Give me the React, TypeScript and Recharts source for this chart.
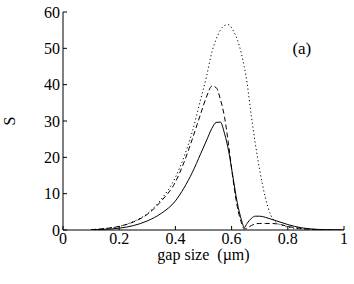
import { LineChart, Line, XAxis, YAxis, ReferenceDot } from "recharts";

// gap size (µm)
const gap = [
  0.1, 0.15, 0.2, 0.25, 0.3, 0.35, 0.4, 0.43, 0.46, 0.49, 0.51, 0.53, 0.545, 0.56, 0.575, 0.59, 0.605,
  0.62, 0.635, 0.645, 0.655, 0.67, 0.685, 0.7, 0.72, 0.74, 0.76, 0.78, 0.8, 0.85, 0.9, 0.95, 1.0,
];

const solid = [
  0.05, 0.2, 0.5, 1.2, 2.5, 4.6, 8.0, 11.5, 15.8, 21, 24.5, 28, 29.6, 29.7, 26.5, 21.5, 14.5,
  7.6, 2.8, 0.7, 1.8, 3.2, 3.8, 3.8, 3.5, 3.0, 2.5, 2.0, 1.5, 0.6, 0.2, 0.05, 0,
];

const dashed = [
  0.1, 0.4, 1.0, 2.2, 4.3, 8.0, 13.2, 18.5, 25, 32, 36.5, 39.6, 39.2, 36, 31, 23, 14,
  6.5, 2, 0.3, 0.5, 1.2, 1.7, 1.8, 1.8, 1.8, 1.7, 1.4, 1.0, 0.4, 0.1, 0.02, 0,
];

const dotted = [
  0.1, 0.4, 1.0, 2.3, 4.5, 8.5, 14.5, 20, 27, 36, 42, 49, 52.5, 55, 56.3, 56.5, 55,
  52.5, 48.5, 45, 40.5, 31.5, 23.5, 16.5, 9, 4, 2, 1.3, 0.8, 0.3, 0.1, 0.02, 0,
];

const xTicks = [0, 0.2, 0.4, 0.6, 0.8, 1];
const yTicks = [0, 10, 20, 30, 40, 50, 60];

const data = gap.map((x, i) => ({ x, solid: solid[i], dashed: dashed[i], dotted: dotted[i] }));

const font = "Liberation Serif, Tinos, DejaVu Serif, serif";
const tickStyle = { fill: "#000", fontSize: 16, fontFamily: font };

export default function App() {
  return (
    <div style={{ width: 354, height: 284, background: "#fff", fontFamily: font }}>
      <style>{"body{margin:0} .recharts-wrapper text{font-family:'Liberation Serif','DejaVu Serif',serif}"}</style>
      <LineChart width={354} height={284} data={data} margin={{ top: 12, right: 10, left: 0, bottom: 0 }}>
        <XAxis
          type="number"
          dataKey="x"
          domain={[0, 1]}
          ticks={xTicks}
          allowDataOverflow
          height={54}
          stroke="#000"
          tick={tickStyle}
          tickSize={-4}
          tickMargin={7}
          label={{ value: "gap size\u00a0 (µm)", position: "insideBottom", offset: 24, fill: "#000", fontSize: 16, fontFamily: font }}
        />
        <XAxis
          xAxisId="top"
          orientation="top"
          type="number"
          dataKey="x"
          domain={[0, 1]}
          ticks={xTicks}
          allowDataOverflow
          height={0}
          stroke="#000"
          tick={false}
          tickSize={-4}
        />
        <YAxis
          type="number"
          domain={[0, 60]}
          ticks={yTicks}
          allowDataOverflow
          width={63}
          stroke="#000"
          tick={tickStyle}
          tickSize={-4}
          tickMargin={7}
          label={(props: any) => {
            const vb = props.viewBox;
            const cx = vb.x + 15;
            const cy = vb.y + vb.height / 2;
            return (
              <text x={cx} y={cy} transform={`rotate(-90 ${cx} ${cy})`} textAnchor="middle" fontSize={16} fontFamily={font} fill="#000">
                S
              </text>
            );
          }}
        />
        <YAxis
          yAxisId="right"
          orientation="right"
          type="number"
          domain={[0, 60]}
          ticks={yTicks}
          allowDataOverflow
          width={0}
          stroke="#000"
          tick={false}
          tickSize={-4}
        />
        <Line type="monotone" dataKey="dotted" stroke="#000" strokeWidth={1} strokeDasharray="1.2 2.6" dot={false} isAnimationActive={false} />
        <Line type="monotone" dataKey="dashed" stroke="#000" strokeWidth={1} strokeDasharray="5 3" dot={false} isAnimationActive={false} />
        <Line type="monotone" dataKey="solid" stroke="#000" strokeWidth={1} dot={false} isAnimationActive={false} />
        <ReferenceDot
          x={0.85}
          y={50}
          r={0}
          fill="none"
          stroke="none"
          label={{ value: "(a)", position: "center", fill: "#000", fontSize: 17, fontFamily: font }}
        />
      </LineChart>
    </div>
  );
}
